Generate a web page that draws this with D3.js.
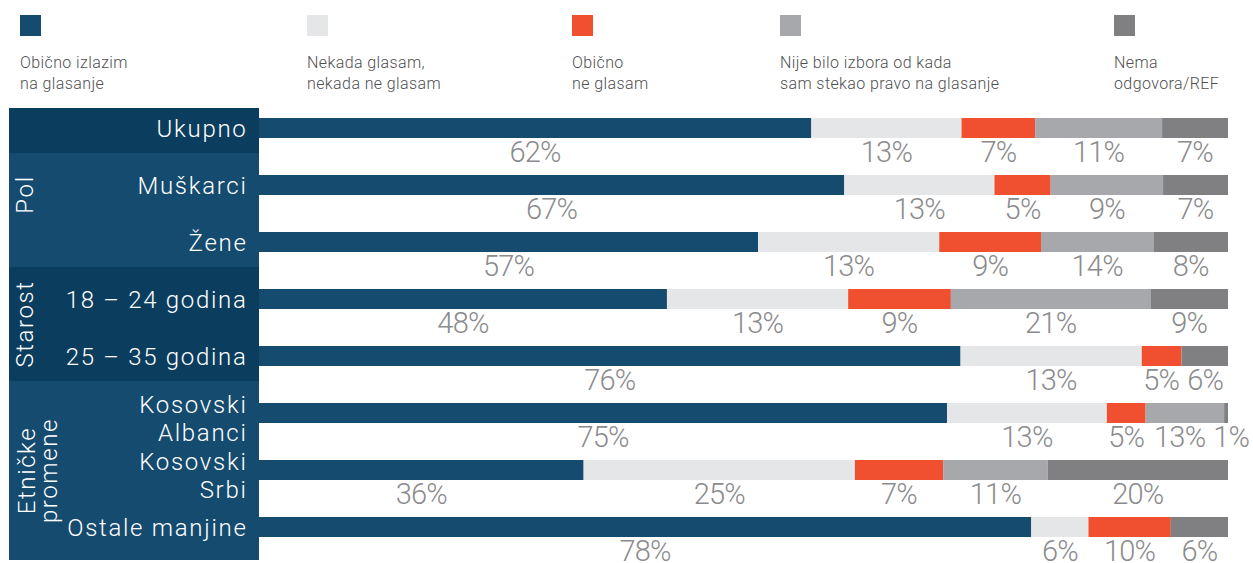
<!DOCTYPE html>
<html>
<head>
<meta charset="utf-8">
<script src="https://cdn.jsdelivr.net/npm/d3@7"></script>
<style>
  html, body { margin: 0; padding: 0; background: #ffffff; }
  svg { display: block; }
</style>
</head>
<body>
<svg id="chart" width="1253" height="563"></svg>
<script>
// ---------------- DATA ----------------
const seriesNames = [
  ["Obično izlazim", "na glasanje"],
  ["Nekada glasam,", "nekada ne glasam"],
  ["Obično", "ne glasam"],
  ["Nije bilo izbora od kada", "sam stekao pravo na glasanje"],
  ["Nema", "odgovora/REF"]
];
const seriesColors = ["#154b6f", "#e5e6e7", "#f04f30", "#a7a8ab", "#808083"];

const categories = [
  ["Ukupno"],
  ["Muškarci"],
  ["Žene"],
  ["18 – 24 godina"],
  ["25 – 35 godina"],
  ["Kosovski", "Albanci"],
  ["Kosovski", "Srbi"],
  ["Ostale manjine"]
];

const groups = [
  { name: [], from: 0, to: 0, shade: "dark" },
  { name: ["Pol"], from: 1, to: 2, shade: "light" },
  { name: ["Starost"], from: 3, to: 4, shade: "dark" },
  { name: ["Etničke", "promene"], from: 5, to: 7, shade: "light" }
];

// drawn segment lengths (share of the bar, as pictured)
const segUkupno   = [57.0, 15.5, 7.6, 13.1, 6.8];
const segMuskarci = [60.4, 15.5, 5.8, 11.6, 6.7];
const segZene     = [51.5, 18.7, 10.5, 11.6, 7.7];
const seg1824     = [42.1, 18.7, 10.6, 20.6, 8.0];
const seg2535     = [72.4, 18.7, 4.1, 0, 4.8];
const segAlbanci  = [71.0, 16.5, 4.0, 8.1, 0.4];
const segSrbi     = [33.5, 28.0, 9.1, 10.8, 18.6];
const segOstale   = [79.7, 5.9, 8.5, 0, 5.9];

// printed value labels
const lblUkupno   = [62, 13, 7, 11, 7];
const lblMuskarci = [67, 13, 5, 9, 7];
const lblZene     = [57, 13, 9, 14, 8];
const lbl1824     = [48, 13, 9, 21, 9];
const lbl2535     = [76, 13, 5, null, 6];
const lblAlbanci  = [75, 13, 5, 13, 1];
const lblSrbi     = [36, 25, 7, 11, 20];
const lblOstale   = [78, 6, 10, null, 6];

const segments = [segUkupno, segMuskarci, segZene, seg1824, seg2535, segAlbanci, segSrbi, segOstale];
const valueLabels = [lblUkupno, lblMuskarci, lblZene, lbl1824, lbl2535, lblAlbanci, lblSrbi, lblOstale];

// ---------------- LAYOUT ----------------
const svg = d3.select("#chart");
const FONT = "Roboto, 'Noto Sans', sans-serif";
const panelLeft = 9, panelRight = 259, barRight = 1228;
const darkBg = "#0b3d5e", lightBg = "#154b6f";

const x = d3.scaleLinear().domain([0, 100]).range([panelRight, barRight]);
const y = d3.scaleBand()
  .domain(d3.range(categories.length))
  .range([118, 537])
  .paddingInner(37 / 57)
  .paddingOuter(0);
const bw = y.bandwidth();

// ---------------- LEGEND ----------------
const legendX = [20, 307, 572, 780, 1114];
const legend = svg.append("g");
seriesNames.forEach((lines, i) => {
  const g = legend.append("g").attr("transform", `translate(${legendX[i]},0)`);
  g.append("rect").attr("x", 0).attr("y", 15).attr("width", 21).attr("height", 21)
    .attr("fill", seriesColors[i]);
  lines.forEach((t, j) => {
    g.append("text").attr("x", 0).attr("y", 68 + j * 21)
      .attr("font-family", FONT).attr("font-weight", 300).attr("font-size", 16)
      .attr("letter-spacing", 0.4)
      .attr("fill", "#4f4f51").text(t);
  });
});

// ---------------- LEFT PANEL ----------------
function sectionTop(gi) {
  const g = groups[gi];
  return gi === 0 ? y(g.from) - 10 : y(g.from) - 22;
}
function sectionBottom(gi) {
  return gi === groups.length - 1 ? y(groups[gi].to) + 43 : sectionTop(gi + 1);
}
const panel = svg.append("g");
groups.forEach((g, gi) => {
  const t = sectionTop(gi), b = sectionBottom(gi);
  panel.append("rect").attr("x", panelLeft).attr("y", t)
    .attr("width", panelRight - panelLeft).attr("height", b - t)
    .attr("fill", g.shade === "dark" ? darkBg : lightBg);
  if (g.name.length) {
    // centre on the section, but keep clear of the lower (second) row label
    const cy = g.to - g.from === 1 && gi === 1 ? (t + y(g.to)) / 2 + 2 : (t + b) / 2;
    const n = g.name.length;
    g.name.forEach((line, j) => {
      const bx = 33 + j * 22 + (n > 1 ? 2 : 0);
      panel.append("text")
        .attr("transform", `translate(${bx},${cy}) rotate(-90)`)
        .attr("text-anchor", "middle")
        .attr("font-family", FONT).attr("font-weight", 300).attr("font-size", 24)
        .attr("letter-spacing", 1.6)
        .attr("fill", "#ffffff").text(line);
    });
  }
});

// category labels
categories.forEach((lines, i) => {
  const top = y(i);
  const baselines = lines.length === 1 ? [top + bw - 1] : [top + 10, top + bw + 18];
  lines.forEach((t, j) => {
    panel.append("text").attr("x", 247.5).attr("y", baselines[j])
      .attr("text-anchor", "end")
      .attr("font-family", FONT).attr("font-weight", 300).attr("font-size", 24)
      .attr("letter-spacing", 1.7)
      .attr("fill", "#ffffff").text(t);
  });
});

// ---------------- BARS ----------------
const rowData = segments.map((segs, i) => {
  let acc = 0;
  return segs.map((v, k) => {
    const d = { row: i, k, x0: acc, x1: acc + v, label: valueLabels[i][k] };
    acc += v;
    return d;
  });
});

const rows = svg.append("g").selectAll("g.row")
  .data(rowData)
  .join("g").attr("class", "row");

rows.selectAll("rect")
  .data(d => d.filter(s => s.x1 > s.x0))
  .join("rect")
  .attr("x", d => x(d.x0))
  .attr("y", d => y(d.row))
  .attr("width", d => x(d.x1) - x(d.x0))
  .attr("height", bw)
  .attr("fill", d => seriesColors[d.k]);

rows.each(function (segs) {
  const labs = segs.filter(s => s.label !== null);
  const texts = d3.select(this).selectAll("text")
    .data(labs)
    .join("text")
    .attr("x", d => (x(d.x0) + x(d.x1)) / 2)
    .attr("y", d => y(d.row) + 44)
    .attr("text-anchor", "middle")
    .attr("font-family", FONT).attr("font-weight", 300).attr("font-size", 29)
    .attr("letter-spacing", -0.8)
    .attr("fill", "#8b8b8d")
    .text(d => d.label + "%");
  // spread overlapping neighbour labels apart so they stay readable
  const nodes = texts.nodes();
  const minGap = 8;
  for (let i = 1; i < nodes.length; i++) {
    const prev = nodes[i - 1].getBBox(), cur = nodes[i].getBBox();
    const gap = cur.x - (prev.x + prev.width);
    if (gap < minGap) {
      const half = (minGap - gap) / 2;
      nodes[i - 1].setAttribute("x", +nodes[i - 1].getAttribute("x") - half);
      nodes[i].setAttribute("x", +nodes[i].getAttribute("x") + half);
    }
  }
});
</script>
</body>
</html>
